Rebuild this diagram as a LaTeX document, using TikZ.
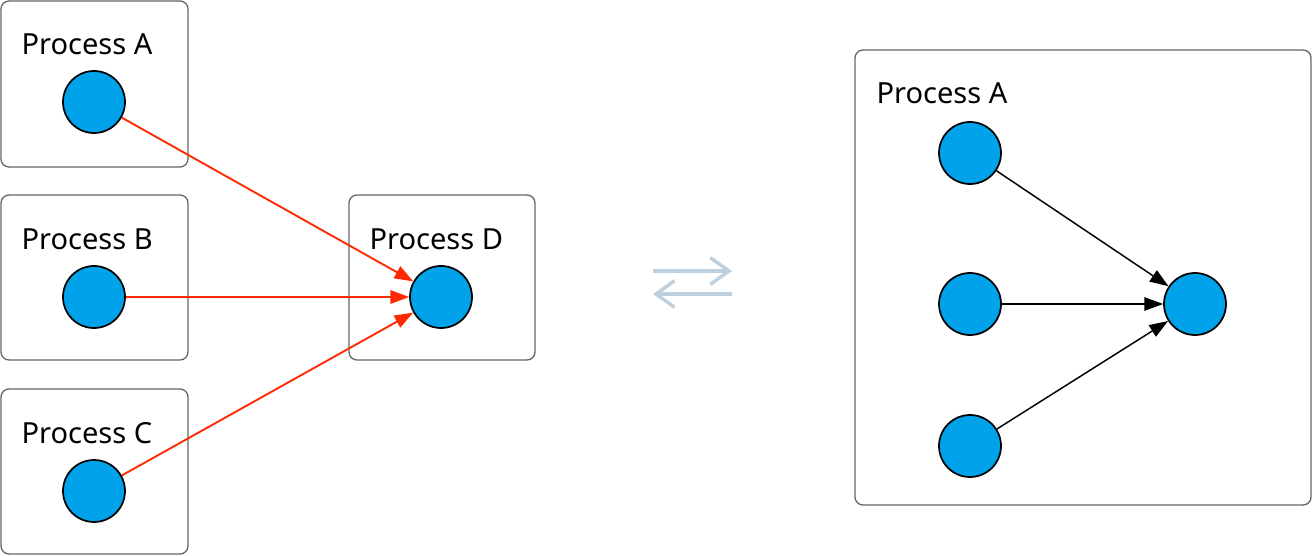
\documentclass[tikz,border=0pt]{standalone}
\usepackage{fontspec}
\setmainfont{Noto Sans}
\usetikzlibrary{arrows.meta}

\tikzset{every picture/.style={line width=0.75pt}}
\definecolor{procblue}{RGB}{0,162,234}
\definecolor{msgred}{RGB}{255,40,0}
\definecolor{swapgray}{RGB}{190,208,222}
\tikzset{
  procbox/.style={draw={rgb,255:red,102;green,102;blue,102}, line width=1pt, rounded corners=6pt},
  proc/.style={circle, draw=black, fill=procblue, line width=1.3pt, minimum size=46.5pt, inner sep=0pt},
  plabel/.style={anchor=base west, inner sep=0pt, font=\fontsize{21.8}{26}\selectfont},
  msg/.style={draw=msgred, line width=1.4pt, -{Triangle[length=14pt,width=10pt]}},
  link/.style={draw=black, line width=1.1pt, -{Triangle[length=14pt,width=10pt]}},
  swap/.style={draw=swapgray, line width=2.6pt, -{Straight Barb[length=14pt,width=20pt,line width=2.6pt]}}
}

\begin{document}
\begin{tikzpicture}[x=0.75pt,y=0.75pt,yscale=-1,xscale=1]
\path[use as bounding box] (0,0) rectangle (1312,556);

%Process boxes, left side
\draw [procbox] (1,1) rectangle (188,167) ;
\draw [procbox] (1,195) rectangle (188,360) ;
\draw [procbox] (1,389) rectangle (188,554) ;
\draw [procbox] (349,195) rectangle (535,360) ;
%Process box, right side
\draw [procbox] (855,50) rectangle (1311,505) ;

% Text Node
\node [plabel] (labA) at (21,55) {Process A};
\node [plabel] (labB) at (21,249) {Process B};
\node [plabel] (labC) at (21,443) {Process C};
\node [plabel] (labD) at (369,249) {Process D};
\node [plabel] (labR) at (876,104) {Process A};

%Processes
\node [proc] (pA) at (94,102) {};
\node [proc] (pB) at (94,297) {};
\node [proc] (pC) at (94,491) {};
\node [proc] (pD) at (441,297) {};
%Threads
\node [proc] (t1) at (970,153) {};
\node [proc] (t2) at (970,304) {};
\node [proc] (t3) at (970,446) {};
\node [proc] (t4) at (1195,304) {};

%Messages
\draw [msg] (pA) -- (pD) ;
\draw [msg] (pB) -- (pD) ;
\draw [msg] (pC) -- (pD) ;
\draw [link] (t1) -- (t4) ;
\draw [link] (t2) -- (t4) ;
\draw [link] (t3) -- (t4) ;

%Swap sign
\coordinate (s1) at (653,271) ;
\coordinate (s2) at (732,271) ;
\coordinate (s3) at (732,294) ;
\coordinate (s4) at (653,294) ;
\draw [swap] (s1) -- (s2) ;
\draw [swap] (s3) -- (s4) ;

\end{tikzpicture}
\end{document}
